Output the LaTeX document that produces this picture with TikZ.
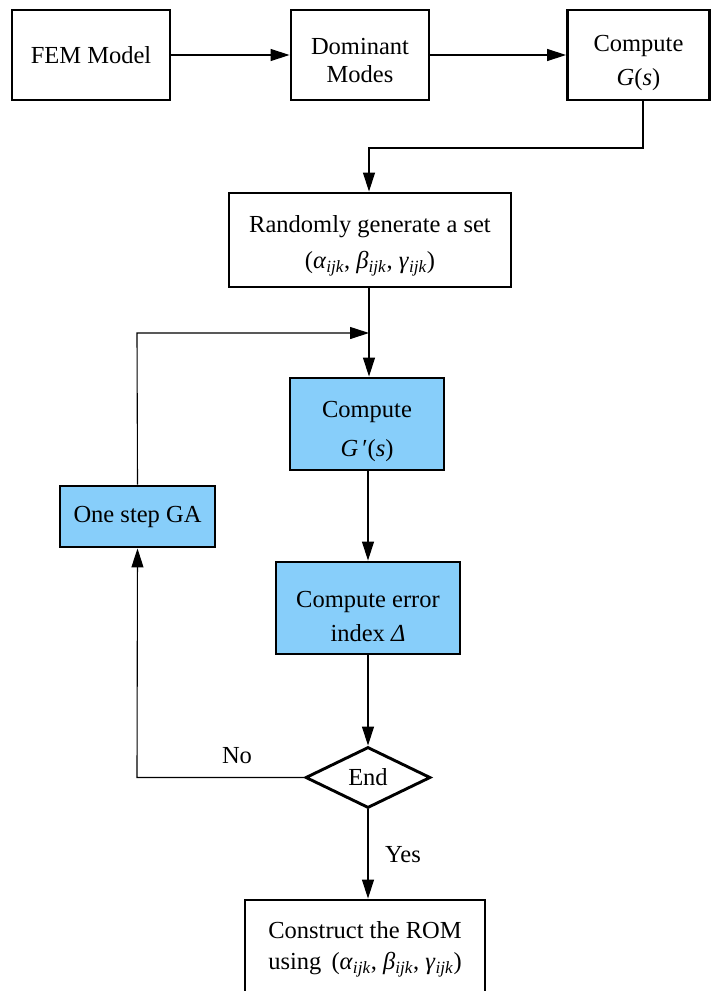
\documentclass[tikz,border=0pt]{standalone}
\usepackage{fontspec}
\setmainfont{Liberation Serif}
\usetikzlibrary{shapes.geometric,arrows.meta}
\newcommand{\sbi}[1]{\textit{#1}\textsubscript{\textit{ijk}}}
\newcommand{\topstrut}[1]{\rule{0pt}{#1pt}}
\definecolor{boxblue}{RGB}{135,206,250}
\tikzset{
  x=1pt,y=-1pt,
  every node/.style={font=\fontsize{24.5}{29}\selectfont},
  blk/.style={draw,line width=2.9pt,align=center,inner sep=0pt},
  bluebox/.style={blk,fill=boxblue},
  conn/.style={line width=1.1pt,-{Triangle[length=19pt,width=12pt]}},
  lbl/.style={inner sep=0pt}
}
\begin{document}
\begin{tikzpicture}
\useasboundingbox (0,0) rectangle (712,991);
\node[blk,minimum width=158,minimum height=90] (fem) at (91,55) {FEM Model};
\node[blk,minimum width=138,minimum height=90] (dom) at (360,55) {\topstrut{27}Dominant\\[-1pt]Modes};
\node[blk,minimum width=142,minimum height=90] (gs) at (638.5,55) {\topstrut{32}Compute\\[5pt]\textit{G}(\textit{s})};
\node[blk,minimum width=282,minimum height=94] (rand) at (370,240) {\topstrut{29}Randomly generate a set\\[7pt](\sbi{α}, \sbi{β}, \sbi{γ})};
\node[bluebox,minimum width=154,minimum height=92] (gp) at (367,424) {\topstrut{31}Compute\\[10pt]\textit{G}\,′(\textit{s})};
\node[bluebox,minimum width=155,minimum height=61] (ga) at (137.5,516.5) {One step GA};
\node[bluebox,minimum width=184,minimum height=92] (err) at (368,608) {\topstrut{33}Compute error\\[5pt]index \textit{Δ}};
\node[draw,line width=2.9pt,shape=diamond,minimum width=125,minimum height=61,inner sep=0pt] (end) at (368,777.5) {End};
\node[blk,minimum width=240,minimum height=96] (rom) at (365,948) {\topstrut{20}Construct the ROM\\[2pt]using\, (\sbi{α}, \sbi{β}, \sbi{γ})};
\coordinate (c1) at (643,148);
\coordinate (c2) at (369,148);
\coordinate (c3) at (137,333);
\coordinate (c4) at (369,333);
\coordinate (c5) at (137,777.5);
\draw[conn] (fem) -- (dom);
\draw[conn] (dom) -- (gs);
\draw[conn] (gs.south -| c1) -- (c1) -- (c2) -- (rand.north -| c2);
\draw[conn] (rand.south -| c4) -- (gp.north -| c4);
\draw[conn] (ga.north) -- (c3) -- (c4);
\draw[conn] (gp.south -| err) -- (err.north);
\draw[conn] (err.south) -- (end.north);
\draw[conn] (end.west) -- (c5) -- (ga.south);
\draw[conn] (end.south) -- (rom.north -| end.south);
\node[lbl] (no) at (237,756) {No};
\node[lbl] (yes) at (403,855) {Yes};
\end{tikzpicture}
\end{document}
